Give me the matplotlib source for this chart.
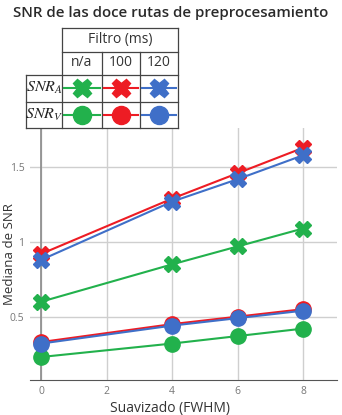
import matplotlib
matplotlib.use('Agg')
import matplotlib.pyplot as plt
from matplotlib.lines import Line2D

# datos
fwhm = [0, 4, 6, 8]
snr_a_na = [0.60, 0.85, 0.97, 1.09]
snr_a_100 = [0.92, 1.29, 1.46, 1.63]
snr_a_120 = [0.88, 1.27, 1.42, 1.58]
snr_v_na = [0.23, 0.32, 0.37, 0.42]
snr_v_100 = [0.33, 0.45, 0.50, 0.55]
snr_v_120 = [0.32, 0.44, 0.49, 0.54]

filtros = ['n/a', '100', '120']
colores = ['#22b14c', '#ed1c24', '#3f6fc8']
xticks = [0, 2, 4, 6, 8]
yticks = [0.5, 1.0, 1.5]
yticklabels = ['0.5', '1', '1.5']

plt.rcParams['font.family'] = ['Open Sans', 'DejaVu Sans']
plt.rcParams['mathtext.fontset'] = 'stix'

W, H = 342, 415
fig = plt.figure(figsize=(W / 100, H / 100), dpi=100)
ax = fig.add_axes([30 / W, 1 - 380 / H, 307 / W, 252 / H])

series_a = [snr_a_na, snr_a_100, snr_a_120]
series_v = [snr_v_na, snr_v_100, snr_v_120]
for vals, c in zip(series_v, colores):
    ax.plot(fwhm, vals, color=c, lw=1.5, marker='o', ms=11, mec=c, zorder=3)
for vals, c in zip(series_a, colores):
    ax.plot(fwhm, vals, color=c, lw=1.5, marker='X', ms=12, mec=c, zorder=3)

ax.set_xlim(-0.34, 9.04)
ax.set_ylim(0.076, 1.763)
ax.set_xticks(xticks)
ax.set_yticks(yticks)
ax.set_yticklabels(yticklabels)
ax.grid(True, color='#cfcfcf', lw=1)
ax.set_axisbelow(True)
ax.axvline(0, color='#8a8a8a', lw=1.2, zorder=1)
for s in ['top', 'right', 'left']:
    ax.spines[s].set_visible(False)
ax.spines['bottom'].set_color('#555555')
ax.tick_params(length=0, labelsize=7.5, labelcolor='#777777', pad=4)
ax.set_xlabel('Suavizado (FWHM)', fontsize=10, color='#333333')
ax.set_ylabel('Mediana de SNR', fontsize=9.5, color='#333333')
ax.xaxis.set_label_coords(0.456, -0.085)
ax.yaxis.set_label_coords(-0.046, 0.5)

fig.text(171 / W, 1 - 13 / H, 'SNR de las doce rutas de preprocesamiento',
         ha='center', va='center', fontsize=10.8, fontweight='semibold', color='#2a2a2a')


# tabla de leyenda dibujada en coordenadas de pixel
def fx(px):
    return px / W


def fy(py):
    return 1 - py / H


def seg(x0, y0, x1, y1):
    fig.add_artist(Line2D([fx(x0), fx(x1)], [fy(y0), fy(y1)], color='#444444', lw=0.9))


seg(62, 28, 178, 28)
seg(62, 52, 178, 52)
seg(26, 75, 178, 75)
seg(26, 102, 178, 102)
seg(26, 128, 178, 128)
seg(62, 28, 62, 128)
seg(178, 28, 178, 128)
seg(26, 75, 26, 128)
seg(102, 52, 102, 128)
seg(140, 52, 140, 128)

fig.text(fx(120), fy(40), 'Filtro (ms)', ha='center', va='center', fontsize=10, color='#333333')
cols = [(62, 102), (102, 140), (140, 178)]
for (c0, c1), lab, c in zip(cols, filtros, colores):
    fig.text(fx((c0 + c1) / 2), fy(63), lab, ha='center', va='center', fontsize=10, color='#333333')
    for py, mk in [(88, 'X'), (115, 'o')]:
        fig.add_artist(Line2D([fx(c0 + 2), fx(c1 - 2)], [fy(py), fy(py)], color=c, lw=1.5))
        fig.add_artist(Line2D([fx((c0 + c1) / 2)], [fy(py)], color=c, marker=mk,
                              ms=13, mec=c, lw=0))
fig.text(fx(44), fy(88), '$SNR_A$', ha='center', va='center', fontsize=11.5, color='#222222')
fig.text(fx(44), fy(115), '$SNR_V$', ha='center', va='center', fontsize=11.5, color='#222222')

fig.savefig('out.png', dpi=100)
